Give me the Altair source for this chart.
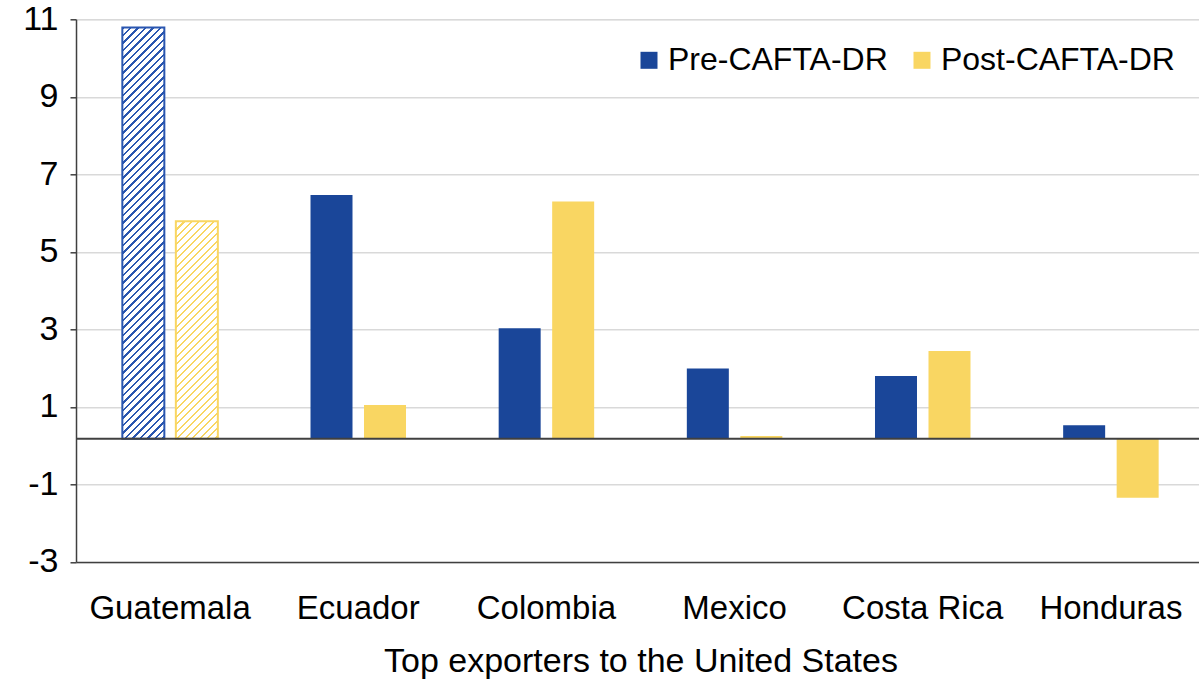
import json
import altair as alt
import pandas as pd

# ---- data ----
countries = ["Guatemala", "Ecuador", "Colombia", "Mexico", "Costa Rica", "Honduras"]
series = ["Pre-CAFTA-DR", "Post-CAFTA-DR"]
pre_values = [10.79, 6.47, 3.03, 1.99, 1.80, 0.53]
post_values = [5.79, 1.05, 6.30, 0.25, 2.44, -1.34]
baseline = [0.18]          # where the horizontal axis line crosses
y_ticks = [-3, -1, 1, 3, 5, 7, 9, 11]
hatched_countries = ["Guatemala"]
x_title = "Top exporters to the United States"

# ---- styles ----
colors = ["#1a4699", "#f9d662"]
hatch_strokes = ["#2a56b0", "#f9d662"]
FONT = "Liberation Sans"
W, H = 1129, 542.7
Y_MIN, Y_MAX = -3, 11
BAR_W = 42

rows = []
for c, a, b in zip(countries, pre_values, post_values):
    rows.append({"country": c, "series": series[0], "value": a, "base": baseline[0]})
    rows.append({"country": c, "series": series[1], "value": b, "base": baseline[0]})
df = pd.DataFrame(rows)


def hatch(color, w, h, period=7.5, frac=0.32):
    span = w + h
    s = span / (w * w + h * h)
    p = period / span
    stops = []
    t = 0.0
    while t < 1:
        b = min(t + p * frac, 1)
        c = min(t + p, 1)
        stops += [
            {"offset": t, "color": color},
            {"offset": b, "color": color},
            {"offset": b, "color": "white"},
            {"offset": c, "color": "white"},
        ]
        t += p
    return {"gradient": "linear", "x1": 0, "y1": 0, "x2": s * w, "y2": s * h, "stops": stops}


x_enc = alt.X(
    "country:N",
    scale=alt.Scale(domain=countries, paddingInner=0, paddingOuter=0),
    axis=alt.Axis(
        title=x_title, labelAngle=0, ticks=False, tickSize=0, labelPadding=31,
        labelFontSize=33, labelFont=FONT, labelColor="black",
        titleFontSize=34, titleFont=FONT, titleFontWeight="normal", titleColor="black",
        titlePadding=19, domainColor="#404040", domainWidth=1.5, grid=False,
    ),
)
xoff_enc = alt.XOffset(
    "series:N", scale=alt.Scale(domain=series, paddingInner=0.215, paddingOuter=0.866)
)
y_enc = alt.Y(
    "value:Q",
    scale=alt.Scale(domain=[Y_MIN, Y_MAX], nice=False, zero=False),
    axis=alt.Axis(
        values=y_ticks, title=None, labelFontSize=34, labelFont=FONT, labelColor="black",
        labelExpr="'' + datum.value",
        labelPadding=12, tickSize=6, tickColor="#404040", tickWidth=1.5,
        domainColor="#404040", domainWidth=1.5, gridColor="#d9d9d9", gridWidth=1.5,
    ),
)

base = alt.Chart(df).encode(x=x_enc, xOffset=xoff_enc, y=y_enc, y2="base:Q")

hatched_json = json.dumps(hatched_countries)
solid = base.mark_bar().encode(
    color=alt.Color(
        "series:N",
        scale=alt.Scale(domain=series, range=colors),
        legend=alt.Legend(
            title=None, orient="none", legendX=557, legendY=25, direction="horizontal",
            symbolType="square", symbolSize=289, symbolStrokeWidth=0,
            labelFontSize=32, labelFont=FONT, labelColor="black", labelOffset=3,
            labelLimit=0, columnPadding=18, padding=0,
        ),
    )
).transform_filter(f"indexof({hatched_json}, datum.country) < 0")

px_per_unit = H / (Y_MAX - Y_MIN)
layers = [solid]
for i, s in enumerate(series):
    vals = pre_values if i == 0 else post_values
    for c in hatched_countries:
        v = vals[countries.index(c)]
        h = abs(v - baseline[0]) * px_per_unit
        layers.append(
            base.mark_bar(
                fill=hatch(hatch_strokes[i], BAR_W, h),
                stroke=hatch_strokes[i], strokeWidth=2,
            ).transform_filter(f"datum.series === '{s}' && datum.country === '{c}'")
        )

zero_rule = alt.Chart(pd.DataFrame({"base": baseline})).mark_rule(
    color="#404040", strokeWidth=2
).encode(y=alt.Y("base:Q", title=None))
layers.append(zero_rule)

chart = alt.layer(*layers).properties(
    width=W, height=H, autosize="none",
    padding={"left": 76, "top": 19.3, "right": -6, "bottom": 116.7},
).configure_view(strokeWidth=0).configure(background="white")

chart.save("out.html", embed_options={"renderer": "svg", "actions": False})
